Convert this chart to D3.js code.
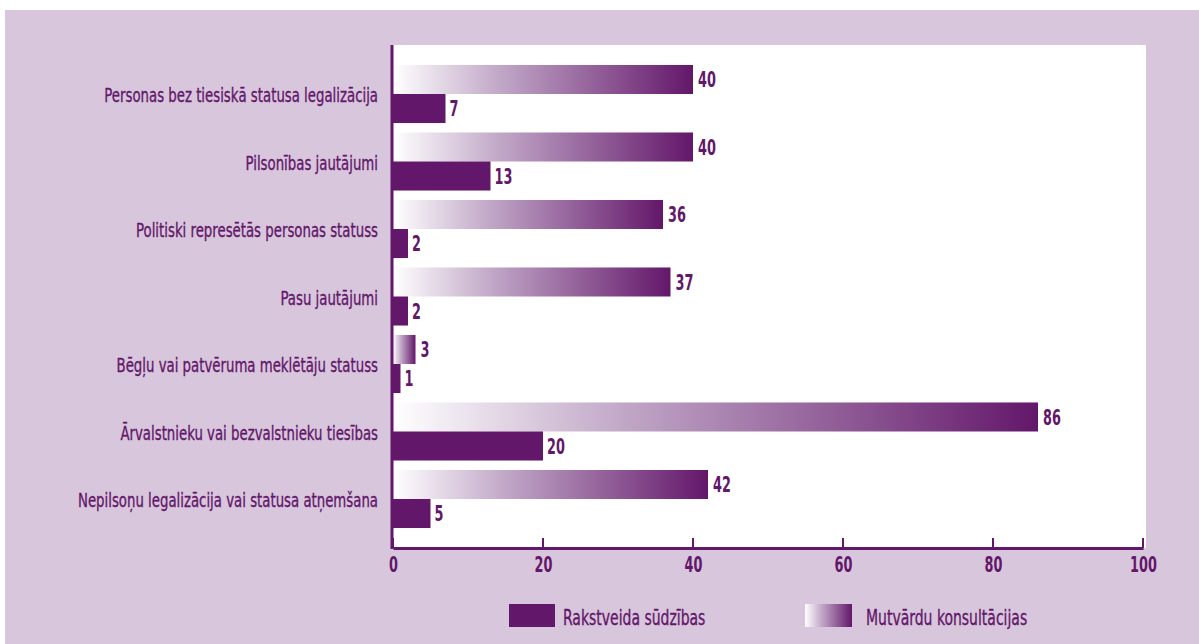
<!DOCTYPE html>
<html>
<head>
<meta charset="utf-8">
<script src="https://cdn.jsdelivr.net/npm/d3@7"></script>
<style>
  body { margin: 0; background: #fff; }
  text { font-family: "DejaVu Sans Condensed", "Liberation Sans Narrow", sans-serif; fill: #63176a; stroke: #63176a; stroke-width: 0.35px; }
  text.num { font-weight: bold; stroke-width: 0; }
</style>
</head>
<body>
<div id="chart"></div>
<script>
//chart data
var categories = [
    "Personas bez tiesiskā statusa legalizācija",
    "Pilsonības jautājumi",
    "Politiski represētās personas statuss",
    "Pasu jautājumi",
    "Bēgļu vai patvēruma meklētāju statuss",
    "Ārvalstnieku vai bezvalstnieku tiesības",
    "Nepilsoņu legalizācija vai statusa atņemšana"
];
var oralValues = [40, 40, 36, 37, 3, 86, 42];
var writtenValues = [7, 13, 2, 2, 1, 20, 5];
var xTicks = [0, 20, 40, 60, 80, 100];
var seriesNames = ["Rakstveida sūdzības", "Mutvārdu konsultācijas"];

var purple = "#63176a";
//the reference font is very condensed, so squeeze text horizontally
var squeeze = 0.74;
var squeezeNum = 0.68;

//svg dimensions
var svgWidth = 1199;
var svgHeight = 644;

//plot area
var plot = { left: 393, right: 1146, top: 45, bottom: 548 };

var svg = d3.select("#chart")
    .append("svg")
    .attr("width", svgWidth)
    .attr("height", svgHeight);

//gradient for oral consultations
var defs = svg.append("defs");
var grad = defs.append("linearGradient")
    .attr("id", "oralGrad")
    .attr("x1", "0%").attr("x2", "100%")
    .attr("y1", "0%").attr("y2", "0%");
grad.append("stop").attr("offset", "0%").attr("stop-color", "#ffffff");
grad.append("stop").attr("offset", "35%").attr("stop-color", "#c2a9c8");
grad.append("stop").attr("offset", "100%").attr("stop-color", purple);

//lavender background
svg.append("rect")
    .attr("x", 5).attr("y", 10)
    .attr("width", svgWidth - 5).attr("height", svgHeight - 10)
    .attr("fill", "#d8c7dc");

//white plot area
svg.append("rect")
    .attr("x", plot.left).attr("y", plot.top)
    .attr("width", plot.right - plot.left).attr("height", plot.bottom - plot.top)
    .attr("fill", "#ffffff");

//scales
var xScale = d3.scaleLinear().domain([0, 100]).range([plot.left, plot.left + 750]);
var yScale = d3.scaleBand()
    .domain(categories)
    .range([plot.top, plot.bottom])
    .paddingInner(0.14)
    .paddingOuter(0.296);
var half = yScale.bandwidth() / 2;

function place(x, y, s) {
    return `translate(${x}, ${y}) scale(${s || squeeze}, 1)`;
}

//bars: oral (gradient) on top, written (solid) below
svg.selectAll(".oral")
    .data(categories)
    .enter()
    .append("rect")
    .attr("class", "oral")
    .attr("x", xScale(0))
    .attr("y", d => yScale(d))
    .attr("width", (d, i) => xScale(oralValues[i]) - xScale(0))
    .attr("height", half)
    .attr("fill", "url(#oralGrad)");

svg.selectAll(".written")
    .data(categories)
    .enter()
    .append("rect")
    .attr("class", "written")
    .attr("x", xScale(0))
    .attr("y", d => yScale(d) + half)
    .attr("width", (d, i) => xScale(writtenValues[i]) - xScale(0))
    .attr("height", half)
    .attr("fill", purple);

//value labels
svg.selectAll(".oralLabel")
    .data(categories)
    .enter()
    .append("text")
    .attr("class", "num")
    .attr("transform", (d, i) => place(xScale(oralValues[i]) + 5, yScale(d) + half / 2, squeezeNum))
    .attr("dy", "0.36em")
    .style("font-size", "21px")
    .text((d, i) => oralValues[i]);

svg.selectAll(".writtenLabel")
    .data(categories)
    .enter()
    .append("text")
    .attr("class", "num")
    .attr("transform", (d, i) => place(xScale(writtenValues[i]) + 4, yScale(d) + half * 1.5, squeezeNum))
    .attr("dy", "0.36em")
    .style("font-size", "21px")
    .text((d, i) => writtenValues[i]);

//category labels
svg.selectAll(".catLabel")
    .data(categories)
    .enter()
    .append("text")
    .attr("transform", d => place(plot.left - 15, yScale(d) + half + 1))
    .attr("dy", "0.36em")
    .attr("text-anchor", "end")
    .style("font-size", "20px")
    .text(d => d);

//x axis
var bottomAxis = d3.axisBottom(xScale).tickValues(xTicks).tickSize(0).tickPadding(9);
var xAxis = svg.append("g")
    .attr("transform", `translate(0, ${plot.bottom})`)
    .call(bottomAxis);
xAxis.select(".domain").attr("stroke", purple).attr("stroke-width", 3);
xAxis.selectAll("text")
    .attr("class", "num")
    .attr("transform", `scale(${squeezeNum}, 1)`)
    .style("font-size", "21px")
    .attr("fill", purple);

//inner tick marks
svg.selectAll(".tickMark")
    .data(xTicks)
    .enter()
    .append("line")
    .attr("x1", d => xScale(d)).attr("x2", d => xScale(d))
    .attr("y1", plot.bottom).attr("y2", plot.bottom - 10)
    .attr("stroke", purple)
    .attr("stroke-width", 2);

//left axis line
svg.append("line")
    .attr("x1", plot.left - 1).attr("x2", plot.left - 1)
    .attr("y1", plot.top).attr("y2", plot.bottom + 1)
    .attr("stroke", purple)
    .attr("stroke-width", 3);

//legend
var legend = svg.append("g");
legend.append("rect")
    .attr("x", 509).attr("y", 604)
    .attr("width", 46).attr("height", 23)
    .attr("fill", purple);
legend.append("text")
    .attr("transform", place(563, 617))
    .attr("dy", "0.36em")
    .style("font-size", "21px")
    .text(seriesNames[0]);
legend.append("rect")
    .attr("x", 805).attr("y", 604)
    .attr("width", 47).attr("height", 23)
    .attr("fill", "url(#oralGrad)");
legend.append("text")
    .attr("transform", place(866, 617))
    .attr("dy", "0.36em")
    .style("font-size", "21px")
    .text(seriesNames[1]);
</script>
</body>
</html>
